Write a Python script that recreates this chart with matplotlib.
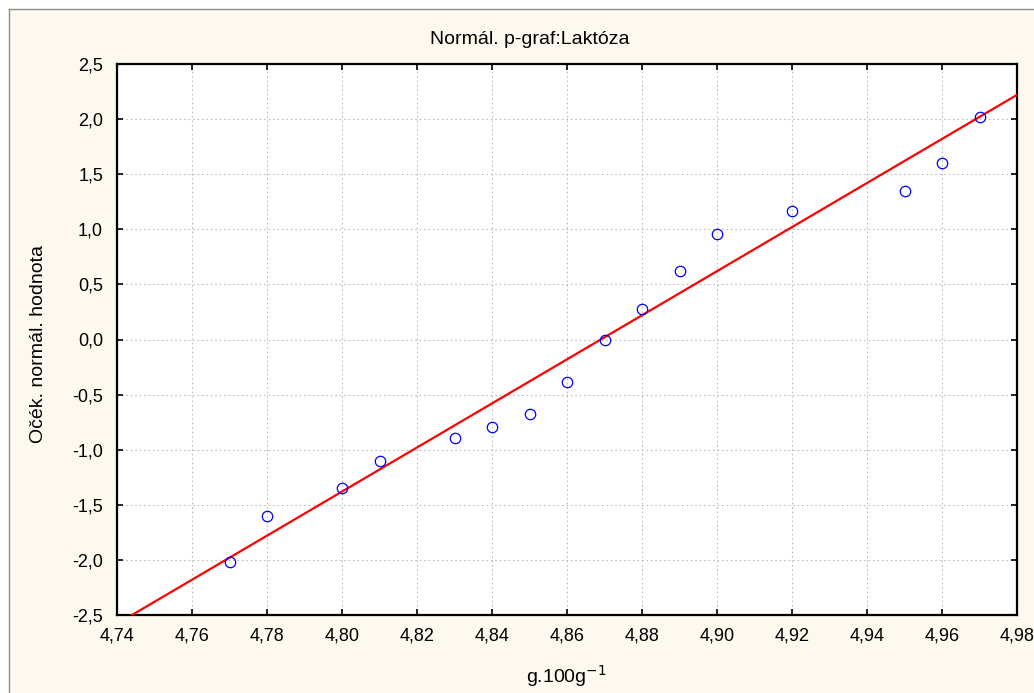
import numpy as np
import matplotlib
matplotlib.use("Agg")
import matplotlib.pyplot as plt
import matplotlib.ticker as mtick
from matplotlib.patches import Rectangle
from matplotlib.lines import Line2D

plt.rcParams["font.family"] = ["Liberation Sans", "DejaVu Sans"]

# Laktóza values (g.100g-1) and expected normal values
laktoza = [4.77, 4.78, 4.80, 4.81, 4.83, 4.84, 4.85, 4.86,
           4.87, 4.88, 4.89, 4.90, 4.92, 4.95, 4.96, 4.97]
ocek = [-2.02, -1.60, -1.35, -1.10, -0.89, -0.79, -0.68, -0.39,
        0.00, 0.28, 0.62, 0.96, 1.17, 1.35, 1.60, 2.02]

# fitted line y = slope * (x - center)
slope = 20.0
center = 4.869

xticks = [4.74, 4.76, 4.78, 4.80, 4.82, 4.84, 4.86, 4.88, 4.90, 4.92, 4.94, 4.96, 4.98]
yticks = [-2.5, -2.0, -1.5, -1.0, -0.5, 0.0, 0.5, 1.0, 1.5, 2.0, 2.5]

W, H = 1034, 693
fig = plt.figure(figsize=(W / 100, H / 100), dpi=100)
fig.patch.set_facecolor("white")

# cream panel with grey frame (top and left)
fig.patches.append(Rectangle((9 / W, 0), 1, 1 - 9 / H, transform=fig.transFigure,
                             facecolor="#fdf9ee", edgecolor="none", zorder=-10))
fig.lines.append(Line2D([9 / W, 1], [1 - 9 / H, 1 - 9 / H], transform=fig.transFigure,
                        color="#8c8c8c", lw=1.0, zorder=-5))
fig.lines.append(Line2D([9 / W, 9 / W], [0, 1 - 9 / H], transform=fig.transFigure,
                        color="#8c8c8c", lw=1.0, zorder=-5))

ax = fig.add_axes([117 / W, 1 - 615 / H, 900 / W, 551 / H])
ax.set_facecolor("white")

xl = np.array([4.74, 4.98])
ax.plot(xl, slope * (xl - center), color="red", lw=1.6, zorder=3)
ax.plot(laktoza, ocek, "o", mfc="none", mec="blue", ms=7.5, mew=0.9, zorder=4)

ax.set_xlim(4.74, 4.98)
ax.set_ylim(-2.5, 2.5)
ax.set_xticks(xticks)
ax.set_yticks(yticks)
ax.xaxis.set_major_formatter(mtick.FuncFormatter(lambda v, p: "{:.2f}".format(v).replace(".", ",")))
ax.yaxis.set_major_formatter(mtick.FuncFormatter(lambda v, p: "{:.1f}".format(v).replace(".", ",")))
ax.tick_params(direction="in", top=True, right=True, length=4, width=1.2,
               labelsize=13, colors="black")
ax.tick_params(axis="x", pad=9)
ax.tick_params(axis="y", pad=10)
for s in ax.spines.values():
    s.set_linewidth(1.6)
ax.grid(True, color="#bdbdbd", ls=(0, (1.5, 2.5)), lw=0.8)
ax.set_axisbelow(True)

fig.text(530 / W, 1 - 40 / H, "Normál. p-graf:Laktóza", fontsize=14,
         ha="center", va="center")
fig.text(566 / W, 1 - 683 / H, "g.100g$^{-1}$", fontsize=14,
         ha="center", va="baseline")
fig.text(39 / W, 1 - 344 / H, "Očék. normál. hodnota", fontsize=14,
         rotation=90, ha="center", va="center")

fig.savefig("out.png", dpi=100, facecolor=fig.get_facecolor())
